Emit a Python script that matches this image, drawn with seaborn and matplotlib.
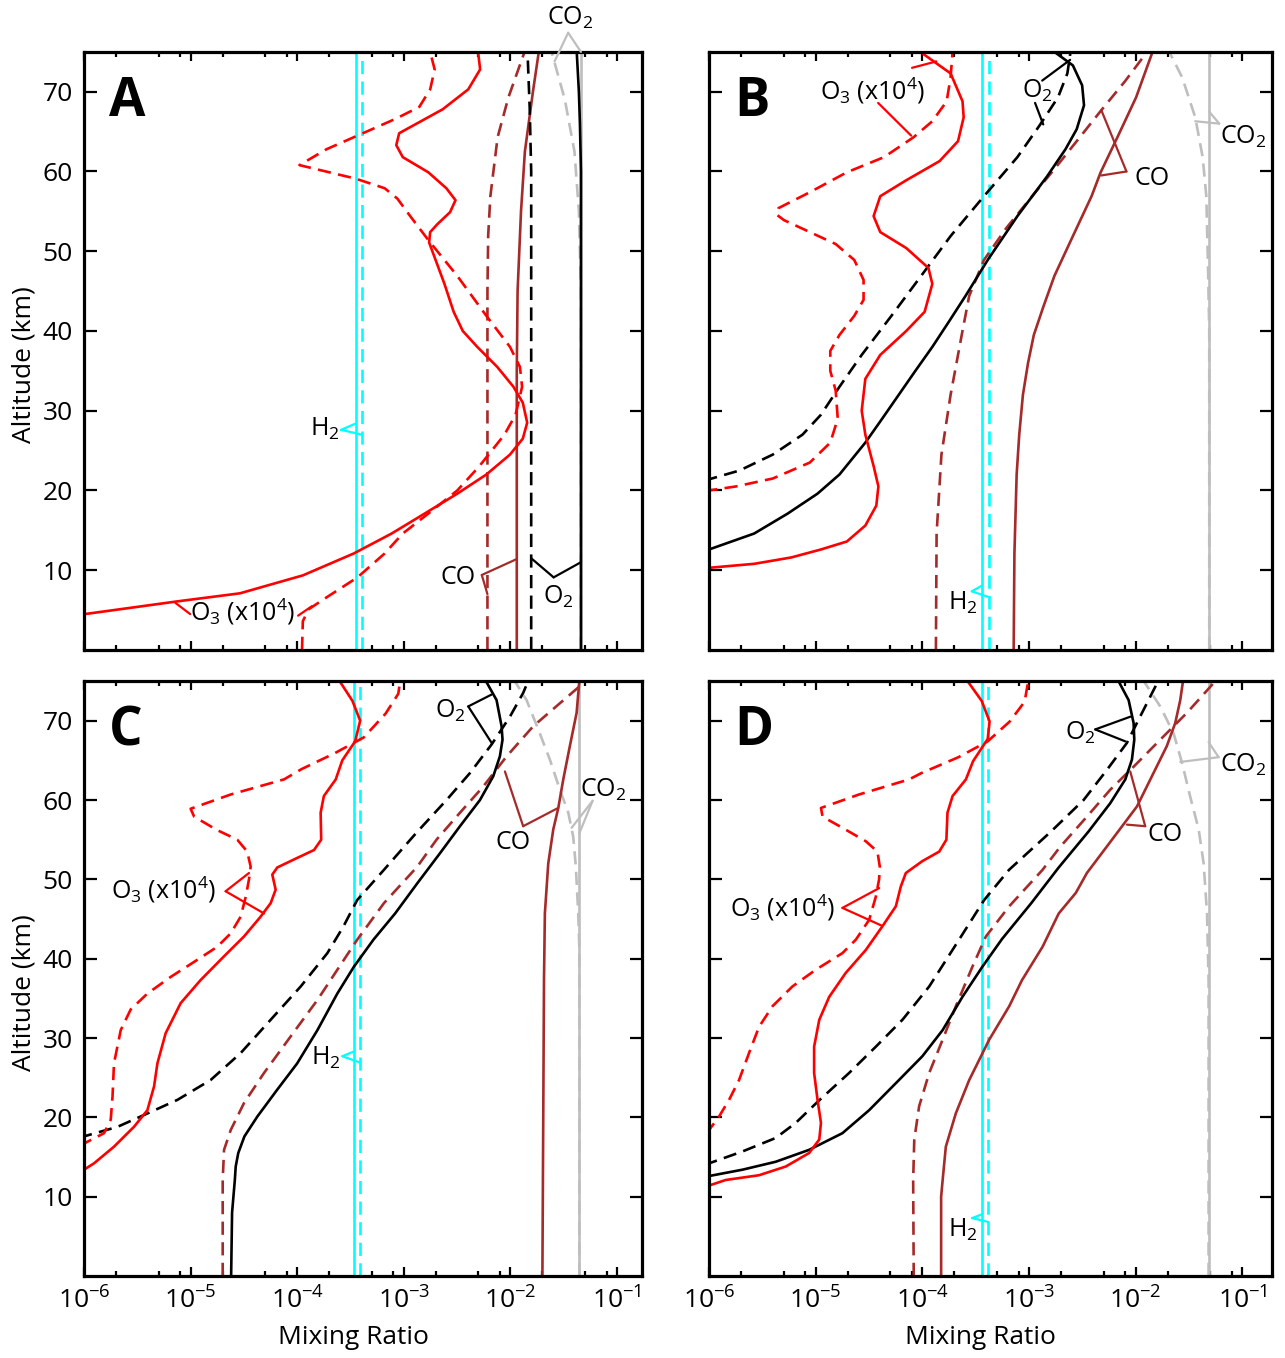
import matplotlib
matplotlib.use("Agg")
import matplotlib.pyplot as plt
import matplotlib.ticker as mticker
import seaborn as sns

# Profiles: altitude (km) and mixing ratio
# solid line = case 1, dashed line = case 2
###############################################################################

# ---- panel A ----
a_o3_z = [4.4, 6.1, 7.1, 9.35, 12.1, 14.6, 17.1, 19.6, 22.0, 24.5, 26.5, 28.5, 31.0, 33.0, 35.5,
          38.0, 40.0, 42.4, 45.9, 48.9, 51.1, 52.4, 53.4, 54.9, 56.4, 57.9, 59.9, 61.8, 63.3, 64.8,
          66.3, 67.8, 70.3, 72.8, 75.0]
a_o3_v = [9.0e-7, 7.6e-6, 2.9e-5, 1.13e-4, 3.4e-4, 7.7e-4, 1.57e-3, 3.18e-3, 5.96e-3, 9.93e-3,
          1.31e-2, 1.44e-2, 1.31e-2, 1.07e-2, 7.53e-3, 4.90e-3, 3.58e-3, 2.94e-3, 2.41e-3, 1.99e-3,
          1.73e-3, 1.77e-3, 2.07e-3, 2.72e-3, 3.06e-3, 2.51e-3, 1.70e-3, 9.79e-4, 8.51e-4, 9.06e-4,
          1.45e-3, 2.32e-3, 4.03e-3, 5.21e-3, 4.98e-3]
a_o3d_z = [0.0, 3.6, 5.1, 6.6, 9.1, 12.1, 14.6, 17.1, 20.0, 23.0, 27.0, 29.5, 33.0, 35.5, 38.0,
           41.9, 46.9, 51.4, 54.4, 56.6, 57.9, 59.1, 60.8, 62.8, 64.8, 66.6, 68.1, 70.3, 72.8, 75.0]
a_o3d_v = [1.11e-4, 1.13e-4, 1.28e-4, 1.89e-4, 3.68e-4, 6.62e-4, 9.79e-4, 1.70e-3, 3.18e-3, 5.09e-3,
           8.81e-3, 1.12e-2, 1.29e-2, 1.23e-2, 9.93e-3, 5.96e-3, 3.18e-3, 1.70e-3, 1.15e-3, 8.71e-4,
           6.62e-4, 3.54e-4, 1.05e-4, 1.89e-4, 4.14e-4, 8.37e-4, 1.40e-3, 1.77e-3, 1.95e-3, 1.77e-3]
a_o2_z = [0, 60, 66, 70, 75]
a_o2_v = [0.046, 0.046, 0.045, 0.044, 0.042]
a_o2d_z = [0, 60, 68, 75]
a_o2d_v = [0.0157, 0.0157, 0.0152, 0.0145]
a_co_z = [0, 35, 45, 55, 62.5, 70, 75]
a_co_v = [0.0115, 0.0115, 0.0117, 0.0126, 0.0137, 0.0163, 0.0185]
a_cod_z = [0, 45, 52, 56.9, 64.3, 69.3, 75]
a_cod_v = [0.0061, 0.0061, 0.0062, 0.0065, 0.0076, 0.0096, 0.0136]
a_co2d_z = [0, 45, 55, 62.5, 69, 75]
a_co2d_v = [0.046, 0.046, 0.044, 0.040, 0.0325, 0.0244]

# ---- panel B ----
b_o3_z = [10.2, 10.3, 10.8, 11.6, 12.6, 13.6, 15.6, 18.1, 20.5, 23.0, 27.0, 30.0, 34.0, 37.0, 40.0,
          42.4, 45.9, 47.9, 50.4, 52.4, 54.4, 56.9, 58.9, 61.3, 63.8, 66.8, 68.8, 72.3, 75.0]
b_o3_v = [9.0e-7, 1.0e-6, 2.65e-6, 5.9e-6, 1.12e-5, 1.96e-5, 2.92e-5, 3.7e-5, 3.87e-5, 3.5e-5,
          2.92e-5, 2.70e-5, 2.92e-5, 4.03e-5, 7.06e-5, 1.05e-4, 1.24e-4, 1.14e-4, 7.06e-5, 4.03e-5,
          3.49e-5, 4.03e-5, 7.06e-5, 1.45e-4, 2.16e-4, 2.44e-4, 2.38e-4, 1.84e-4, 9.57e-5]
b_o3d_z = [19.9, 20.0, 20.5, 21.5, 23.5, 26.0, 29.0, 32.5, 35.0, 37.5, 39.5, 41.9, 43.9, 46.4,
           48.9, 50.9, 52.4, 53.9, 54.6, 55.4, 57.4, 59.9, 61.8, 64.3, 66.3, 68.8, 71.8, 75.0]
b_o3d_v = [9.0e-7, 1.0e-6, 1.78e-6, 3.96e-6, 8.81e-6, 1.37e-5, 1.61e-5, 1.54e-5, 1.37e-5, 1.37e-5,
           1.67e-5, 2.30e-5, 2.81e-5, 2.81e-5, 2.30e-5, 1.54e-5, 8.81e-6, 5.04e-6, 4.29e-6, 4.47e-6,
           8.81e-6, 1.96e-5, 4.37e-5, 8.28e-5, 1.24e-4, 1.69e-4, 1.84e-4, 1.92e-4]
b_o2_z = [12.5, 12.6, 14.6, 17.1, 19.6, 22.0, 26.0, 29.0, 32.0, 35.0, 38.0, 41.2, 44.4, 48.9,
          54.4, 59.4, 62.8, 65.3, 68.3, 70.8, 73.3, 75.0]
b_o2_v = [9.0e-7, 1.0e-6, 2.65e-6, 5.46e-6, 1.04e-5, 1.67e-5, 2.92e-5, 4.2e-5, 6.01e-5, 8.6e-5,
          1.24e-4, 1.78e-4, 2.54e-4, 4.10e-4, 7.78e-4, 1.48e-3, 2.20e-3, 2.80e-3, 3.28e-3, 3.15e-3,
          2.58e-3, 1.73e-3]
b_o2d_z = [21.3, 21.4, 22.5, 24.5, 27.0, 29.5, 33.0, 37.0, 41.9, 46.9, 51.9, 56.9, 61.8, 65.8,
           69.3, 72.3, 75.0]
b_o2d_v = [9.0e-7, 1.0e-6, 1.93e-6, 3.96e-6, 7.52e-6, 1.12e-5, 1.67e-5, 2.70e-5, 5.13e-5, 9.73e-5,
           1.84e-4, 3.78e-4, 7.78e-4, 1.26e-3, 1.87e-3, 2.29e-3, 2.45e-3]
b_co_z = [0, 12.1, 22.0, 27.0, 32.0, 36.0, 39.5, 43.0, 46.9, 51.9, 56.9, 59.9, 64.3, 69.3, 75.0]
b_co_v = [7.18e-4, 7.30e-4, 7.66e-4, 8.1e-4, 8.77e-4, 9.8e-4, 1.11e-3, 1.36e-3, 1.73e-3, 2.58e-3,
          3.86e-3, 4.70e-3, 6.75e-3, 1.01e-2, 1.44e-2]
b_cod_z = [0, 14.6, 24.5, 32.0, 39.5, 44.4, 48.9, 52.9, 56.9, 60.3, 63.8, 67.6, 71.3, 75.0]
b_cod_v = [1.34e-4, 1.36e-4, 1.51e-4, 1.84e-4, 2.34e-4, 2.75e-4, 3.78e-4, 6.12e-4, 1.07e-3, 1.73e-3,
           2.80e-3, 4.71e-3, 7.93e-3, 1.28e-2]
b_co2d_z = [0, 40, 46.9, 56.9, 61.8, 66.8, 71.8, 75.0]
b_co2d_v = [0.049, 0.049, 0.0479, 0.046, 0.0425, 0.0362, 0.0273, 0.0207]

# ---- panel C ----
c_o3_z = [12.8, 13.4, 14.2, 16.3, 18.8, 20.9, 23.9, 26.8, 30.6, 34.4, 37.3, 40.3, 42.8, 45.3, 47.0,
          48.7, 50.6, 51.5, 52.7, 53.7, 55.0, 58.4, 60.5, 62.6, 65.0, 67.4, 70.0, 72.5, 75.0]
c_o3_v = [9.0e-7, 1.0e-6, 1.24e-6, 1.91e-6, 2.94e-6, 3.93e-6, 4.54e-6, 4.88e-6, 5.83e-6, 8.07e-6,
          1.24e-5, 2.06e-5, 3.17e-5, 4.54e-5, 5.64e-5, 6.28e-5, 5.84e-5, 6.51e-5, 1.00e-4, 1.44e-4,
          1.68e-4, 1.66e-4, 1.78e-4, 2.30e-4, 2.65e-4, 3.5e-4, 3.9e-4, 3.3e-4, 2.5e-4]
c_o3d_z = [16.5, 16.7, 18.0, 19.7, 22.6, 26.8, 31.0, 33.6, 35.6, 37.7, 39.6, 41.5, 43.2, 45.3, 47.8,
           50.0, 51.6, 53.5, 55.0, 56.2, 57.9, 58.9, 60.7, 62.6, 63.9, 65.9, 67.9, 70.9, 73.4, 75.0]
c_o3d_v = [9.0e-7, 1.0e-6, 1.54e-6, 1.78e-6, 1.85e-6, 1.91e-6, 2.21e-6, 2.74e-6, 3.93e-6, 6.50e-6,
           1.08e-5, 1.78e-5, 2.38e-5, 2.95e-5, 3.29e-5, 3.53e-5, 3.66e-5, 3.40e-5, 2.74e-5, 1.78e-5,
           1.08e-5, 1.00e-5, 2.38e-5, 7.52e-5, 1.1e-4, 2.25e-4, 4.22e-4, 6.76e-4, 8.89e-4, 9.25e-4]
c_o2_z = [0, 8, 12.1, 13.8, 15.5, 17.6, 20.1, 23.5, 26.8, 31.0, 35.6, 39.0, 42.4, 45.7, 49.5,
          53.3, 56.7, 60.0, 63.0, 65.5, 67.6, 69.3, 72.6, 75.0]
c_o2_v = [2.4e-5, 2.45e-5, 2.6e-5, 2.65e-5, 2.8e-5, 3.2e-5, 4.23e-5, 6.51e-5, 1.00e-4, 1.55e-4,
          2.38e-4, 3.41e-4, 5.2e-4, 8.3e-4, 1.34e-3, 2.19e-3, 3.37e-3, 5.19e-3, 6.92e-3, 7.98e-3,
          8.45e-3, 8.28e-3, 7.43e-3, 5.9e-3]
c_o2d_z = [17.4, 17.6, 18.8, 20.3, 22.2, 24.7, 28.1, 32.3, 36.5, 40.7, 44.0, 47.4, 51.2, 55.8,
           60.0, 63.4, 67.0, 70.5, 73.5, 75.0]
c_o2d_v = [9.0e-7, 1.0e-6, 2.06e-6, 3.66e-6, 7.52e-6, 1.54e-5, 2.95e-5, 5.64e-5, 1.08e-4, 1.92e-4,
           2.70e-4, 3.66e-4, 6.52e-4, 1.30e-3, 2.52e-3, 4.18e-3, 6.67e-3, 9.91e-3, 1.32e-2, 1.47e-2]
c_co_z = [0, 37.3, 45.7, 52.0, 56.3, 59.0, 62.6, 66.8, 71.0, 75.0]
c_co_v = [2.0e-2, 2.07e-2, 2.11e-2, 2.27e-2, 2.53e-2, 2.82e-2, 3.14e-2, 3.62e-2, 4.19e-2, 4.44e-2]
c_cod_z = [0, 10, 12.1, 15.9, 18.4, 21.8, 25.6, 30.2, 34.8, 38.6, 42.4, 47.0, 51.6, 55.0, 58.4,
           61.7, 65.5, 69.3, 72.2, 75.0]
c_cod_v = [2.0e-5, 2.0e-5, 2.0e-5, 2.06e-5, 2.38e-5, 3.17e-5, 4.89e-5, 8.69e-5, 1.55e-4, 2.38e-4,
           3.66e-4, 6.52e-4, 1.34e-3, 2.03e-3, 3.37e-3, 5.57e-3, 9.23e-3, 1.64e-2, 2.92e-2, 5.1e-2]
c_co2d_z = [0, 41.5, 45.7, 51.6, 55.4, 58.4, 61.3, 65.1, 68.9, 72.6, 75.0]
c_co2d_v = [4.44e-2, 4.44e-2, 4.34e-2, 4.12e-2, 3.89e-2, 3.50e-2, 2.92e-2, 2.35e-2, 1.83e-2,
            1.42e-2, 1.10e-2]

# ---- panel D ----
d_o3_z = [11.3, 11.4, 12.1, 12.7, 13.8, 15.5, 17.2, 19.3, 22.2, 25.6, 28.9, 32.3, 35.2, 38.2, 41.1,
          44.1, 46.6, 49.1, 50.8, 52.3, 53.5, 55.0, 58.4, 60.5, 62.6, 64.9, 67.7, 69.9, 72.5, 75.0]
d_o3_v = [9.0e-7, 1.0e-6, 1.43e-6, 2.94e-6, 5.24e-6, 8.67e-6, 1.08e-5, 1.12e-5, 1.04e-5, 9.66e-6,
          9.66e-6, 1.08e-5, 1.34e-5, 1.91e-5, 2.95e-5, 4.23e-5, 5.64e-5, 6.28e-5, 7.00e-5, 1.00e-4,
          1.44e-4, 1.68e-4, 1.72e-4, 1.92e-4, 2.56e-4, 2.99e-4, 4.1e-4, 4.27e-4, 3.6e-4, 2.65e-4]
d_o3d_z = [18.3, 18.4, 20.1, 22.2, 24.7, 28.1, 31.4, 34.0, 36.5, 38.6, 40.7, 42.4, 44.9, 47.8, 50.0,
           51.6, 53.5, 54.8, 56.5, 57.9, 59.0, 60.7, 62.6, 63.4, 65.4, 67.4, 69.9, 72.4, 75.0]
d_o3d_v = [9.0e-7, 1.0e-6, 1.24e-6, 1.54e-6, 1.91e-6, 2.37e-6, 2.94e-6, 3.93e-6, 6.05e-6, 1.00e-5,
           1.78e-5, 2.38e-5, 3.17e-5, 3.66e-5, 3.93e-5, 3.99e-5, 3.79e-5, 2.95e-5, 1.78e-5, 1.16e-5,
           1.12e-5, 2.55e-5, 7.52e-5, 9.8e-5, 2.18e-4, 4.1e-4, 6.6e-4, 9.1e-4, 9.84e-4]
d_o2_z = [12.5, 12.6, 13.4, 14.4, 15.9, 18.0, 20.9, 24.3, 27.7, 31.0, 35.2, 39.0, 42.5, 47.0, 51.5,
          56.0, 59.6, 62.6, 65.1, 67.6, 69.7, 72.6, 75.0]
d_o2_v = [9.0e-7, 1.0e-6, 2.06e-6, 4.22e-6, 8.67e-6, 1.78e-5, 3.17e-5, 5.64e-5, 1.00e-4, 1.55e-4,
          2.38e-4, 3.66e-4, 5.6e-4, 1.05e-3, 1.9e-3, 3.6e-3, 5.78e-3, 8.00e-3, 9.23e-3, 9.71e-3,
          9.57e-3, 8.59e-3, 6.9e-3]
d_o2d_z = [14.1, 14.2, 15.7, 17.4, 19.3, 22.0, 25.6, 28.9, 32.3, 36.5, 42.4, 47.4, 51.2, 53.5,
           56.0, 60.0, 63.8, 67.2, 70.5, 74.3, 75.0]
d_o2d_v = [9.0e-7, 1.0e-6, 2.06e-6, 4.22e-6, 6.50e-6, 1.05e-5, 2.06e-5, 3.66e-5, 6.51e-5, 1.16e-4,
           2.21e-4, 3.8e-4, 6.5e-4, 1.0e-3, 1.6e-3, 3.25e-3, 5.38e-3, 8.28e-3, 1.10e-2, 1.53e-2,
           1.6e-2]
d_co_z = [0, 10, 12.1, 16.3, 20.5, 24.7, 29.8, 34.0, 37.3, 41.5, 45.7, 48.3, 50.8, 55.0, 59.2,
          63.4, 66.8, 69.7, 72.6, 75.0]
d_co_v = [1.5e-4, 1.5e-4, 1.55e-4, 1.66e-4, 2.06e-4, 2.75e-4, 4.24e-4, 6.52e-4, 8.6e-4, 1.34e-3,
          1.9e-3, 2.75e-3, 3.49e-3, 6.0e-3, 1.03e-2, 1.47e-2, 1.96e-2, 2.35e-2, 2.62e-2, 2.78e-2]
d_cod_z = [0, 12.1, 17.2, 21.4, 25.6, 29.8, 34.0, 39.0, 42.8, 46.6, 51.2, 54.1, 57.9, 61.3, 64.2,
           67.6, 71.0, 75.0]
d_cod_v = [8.3e-5, 8.2e-5, 8.4e-5, 9.33e-5, 1.16e-4, 1.55e-4, 2.06e-4, 2.95e-4, 3.94e-4, 6.52e-4,
           1.34e-3, 1.96e-3, 3.49e-3, 5.78e-3, 9.57e-3, 1.70e-2, 3.03e-2, 5.6e-2]
d_co2d_z = [0, 37.3, 45.7, 52.0, 56.3, 60.4, 64.7, 68.4, 71.8, 75.0]
d_co2d_v = [4.83e-2, 4.83e-2, 4.67e-2, 4.34e-2, 3.90e-2, 3.25e-2, 2.72e-2, 2.27e-2, 1.70e-2, 1.19e-2]

# constant profiles, one value per panel (A, B, C, D)
h2_solid = [3.55e-4, 3.65e-4, 3.4e-4, 3.66e-4]
h2_dashed = [4.05e-4, 4.25e-4, 3.9e-4, 4.17e-4]
co2_solid = [0.046, 0.049, 4.44e-2, 4.83e-2]

panel_names = ['A', 'B', 'C', 'D']
alt_ticks = [10, 20, 30, 40, 50, 60, 70]

# Style
###############################################################################

sns.set_style('ticks')
plt.rcParams['font.family'] = ['Open Sans', 'DejaVu Sans']
plt.rcParams['mathtext.fontset'] = 'custom'
plt.rcParams['mathtext.rm'] = 'Open Sans'
plt.rcParams['mathtext.it'] = 'Open Sans:italic'
plt.rcParams['mathtext.bf'] = 'Open Sans:bold'
for key in ['text.color', 'axes.labelcolor', 'axes.edgecolor', 'xtick.color', 'ytick.color']:
    plt.rcParams[key] = 'black'

RED, BLACK, BROWN, CYAN, GREY = '#ff0000', '#000000', '#a52a2a', '#00ffff', '#bebebe'
DASH = (0, (5, 2.8))
LW = 1.9

# Build curve tables from the lists
###############################################################################

curves = {
    'A': [(a_co2d_v, a_co2d_z, GREY, DASH), (a_co_v, a_co_z, BROWN, '-'), (a_cod_v, a_cod_z, BROWN, DASH),
          (a_o2_v, a_o2_z, BLACK, '-'), (a_o2d_v, a_o2d_z, BLACK, DASH),
          (a_o3_v, a_o3_z, RED, '-'), (a_o3d_v, a_o3d_z, RED, DASH)],
    'B': [(b_co2d_v, b_co2d_z, GREY, DASH), (b_co_v, b_co_z, BROWN, '-'), (b_cod_v, b_cod_z, BROWN, DASH),
          (b_o2_v, b_o2_z, BLACK, '-'), (b_o2d_v, b_o2d_z, BLACK, DASH),
          (b_o3_v, b_o3_z, RED, '-'), (b_o3d_v, b_o3d_z, RED, DASH)],
    'C': [(c_co2d_v, c_co2d_z, GREY, DASH), (c_co_v, c_co_z, BROWN, '-'), (c_cod_v, c_cod_z, BROWN, DASH),
          (c_o2_v, c_o2_z, BLACK, '-'), (c_o2d_v, c_o2d_z, BLACK, DASH),
          (c_o3_v, c_o3_z, RED, '-'), (c_o3d_v, c_o3d_z, RED, DASH)],
    'D': [(d_co2d_v, d_co2d_z, GREY, DASH), (d_co_v, d_co_z, BROWN, '-'), (d_cod_v, d_cod_z, BROWN, DASH),
          (d_o2_v, d_o2_z, BLACK, '-'), (d_o2d_v, d_o2d_z, BLACK, DASH),
          (d_o3_v, d_o3_z, RED, '-'), (d_o3d_v, d_o3d_z, RED, DASH)],
}

O3 = 'O$_3$ (x10$^4$)'
# label text, text position, leader colour, leader segments (x0, z0, x1, z1)
labels = {
    'A': [('CO$_2$', (0.0362, 79.2), GREY, [(0.0349, 77.4, 0.026, 73.8), (0.0349, 77.4, 0.046, 75.0)]),
          ('O$_2$', (0.028, 6.6), BLACK, [(0.0255, 9.1, 0.0157, 11.5), (0.0255, 9.1, 0.046, 11.0)]),
          ('CO', (3.2e-3, 9.1), BROWN, [(5.4e-3, 9.4, 0.0115, 11.4), (5.4e-3, 9.4, 0.0061, 7.0)]),
          (O3, (3.1e-5, 4.8), RED, [(7.2e-6, 5.9, 9.9e-6, 4.5), (1.02e-4, 4.3, 1.38e-4, 5.5)]),
          ('H$_2$', (1.82e-4, 27.7), CYAN, [(2.58e-4, 27.6, 3.55e-4, 28.4), (2.58e-4, 27.6, 4.05e-4, 27.0)])],
    'B': [(O3, (3.45e-5, 70.1), RED, [(8.0e-5, 73.0, 1.35e-4, 73.8), (3.85e-5, 68.6, 7.85e-5, 64.5)]),
          ('O$_2$', (1.19e-3, 70.1), BLACK, [(1.33e-3, 71.4, 2.43e-3, 74.0), (1.14e-3, 68.6, 1.36e-3, 65.9)]),
          ('CO', (0.0143, 59.1), BROWN, [(8.2e-3, 60.0, 4.76e-3, 67.7), (8.2e-3, 60.0, 4.76e-3, 59.5)]),
          ('CO$_2$', (0.102, 64.4), GREY, [(0.0608, 66.0, 0.049, 67.5), (0.0608, 66.0, 0.0362, 66.3)]),
          ('H$_2$', (2.42e-4, 5.9), CYAN, [(2.91e-4, 7.35, 3.65e-4, 8.1), (2.91e-4, 7.35, 4.25e-4, 6.6)])],
    'C': [(O3, (5.6e-6, 48.7), RED, [(2.13e-5, 48.5, 3.53e-5, 50.8), (2.13e-5, 48.5, 4.89e-5, 45.7)]),
          ('H$_2$', (1.85e-4, 27.45), CYAN, [(2.65e-4, 27.7, 3.4e-4, 28.3), (2.65e-4, 27.7, 3.9e-4, 26.9)]),
          ('O$_2$', (2.71e-3, 71.2), BLACK, [(4.03e-3, 71.8, 6.68e-3, 73.3), (4.03e-3, 71.8, 6.68e-3, 67.2)]),
          ('CO', (1.06e-2, 54.6), BROWN, [(1.32e-2, 56.7, 8.9e-3, 63.6), (1.32e-2, 56.7, 2.81e-2, 59.0)]),
          ('CO$_2$', (0.0743, 61.3), GREY, [(0.0592, 59.9, 0.0376, 56.5), (0.0592, 59.9, 0.0444, 55.8)])],
    'D': [(O3, (4.9e-6, 46.4), RED, [(1.78e-5, 46.4, 3.94e-5, 48.9), (1.78e-5, 46.4, 4.1e-5, 44.2)]),
          ('H$_2$', (2.42e-4, 5.8), CYAN, [(2.93e-4, 7.3, 3.66e-4, 7.8), (2.93e-4, 7.3, 4.17e-4, 6.8)]),
          ('O$_2$', (3.02e-3, 68.4), BLACK, [(4.18e-3, 68.9, 8.9e-3, 70.5), (4.18e-3, 68.9, 7.98e-3, 67.4)]),
          ('CO', (1.90e-2, 55.6), BROWN, [(1.23e-2, 56.7, 8.9e-3, 63.6), (1.23e-2, 56.7, 8.28e-3, 56.9)]),
          ('CO$_2$', (0.102, 64.4), GREY, [(0.060, 65.4, 0.0483, 67.3), (0.060, 65.4, 0.0262, 64.8)])],
}

# axes rectangles in figure fractions and right x limit of each panel
rects = {'A': [0.0654, 0.5214, 0.4342, 0.4404], 'B': [0.5518, 0.5214, 0.4381, 0.4404],
         'C': [0.0654, 0.0604, 0.4342, 0.4381], 'D': [0.5518, 0.0604, 0.4381, 0.4381]}
xmax = {'A': 0.172, 'B': 0.19, 'C': 0.172, 'D': 0.19}

# Plotting
###############################################################################

fig = plt.figure(figsize=(12.85, 13.58), dpi=100)

for i, name in enumerate(panel_names):
    ax = fig.add_axes(rects[name])
    ax.set_xscale('log')

    # constant profiles first (CO2 case 1, H2 both cases)
    sns.lineplot(x=[co2_solid[i]] * 2, y=[0, 75], ax=ax, color=GREY, linewidth=LW,
                 estimator=None, sort=False, legend=False)
    sns.lineplot(x=[h2_solid[i]] * 2, y=[0, 75], ax=ax, color=CYAN, linewidth=LW,
                 estimator=None, sort=False, legend=False)
    sns.lineplot(x=[h2_dashed[i]] * 2, y=[0, 75], ax=ax, color=CYAN, linewidth=LW,
                 linestyle=DASH, estimator=None, sort=False, legend=False)

    for vals, alts, col, ls in curves[name]:
        sns.lineplot(x=vals, y=alts, ax=ax, color=col, linewidth=LW, linestyle=ls,
                     estimator=None, sort=False, legend=False)

    for text, (tx, tz), col, segs in labels[name]:
        for x0, z0, x1, z1 in segs:
            ax.plot([x0, x1], [z0, z1], color=col, linewidth=1.6, clip_on=False, zorder=5)
        ax.text(tx, tz, text, fontsize=18, ha='center', va='center', zorder=6, clip_on=False)

    ax.set_xlim(1e-6, xmax[name])
    ax.set_ylim(0, 75)
    ax.xaxis.set_major_locator(mticker.LogLocator(base=10, numticks=12))
    ax.xaxis.set_minor_locator(mticker.LogLocator(base=10, subs=[2, 5, 8], numticks=12))
    ax.xaxis.set_minor_formatter(mticker.NullFormatter())
    ax.yaxis.set_major_locator(mticker.FixedLocator(alt_ticks))

    ax.tick_params(axis='both', which='both', direction='in', top=True, right=True,
                   width=1.6, labelsize=19, pad=8, color='black')
    ax.tick_params(axis='x', which='major', length=6.5)
    ax.tick_params(axis='x', which='minor', length=3.5)
    ax.tick_params(axis='y', which='major', length=9)
    for sp in ax.spines.values():
        sp.set_linewidth(2.3)
        sp.set_color('black')

    if name in ('A', 'B'):
        ax.tick_params(axis='x', labelbottom=False)
        ax.set_xlabel('')
    else:
        ax.set_xlabel('Mixing Ratio', fontsize=19)
        ax.xaxis.set_label_coords(0.482, -0.082)
    if name in ('A', 'C'):
        ax.set_ylabel('Altitude (km)', fontsize=19)
        ax.yaxis.set_label_coords(-0.086, 0.477)
    else:
        ax.tick_params(axis='y', labelleft=False)
        ax.set_ylabel('')

    ax.text(0.045, 0.916, name, transform=ax.transAxes, fontsize=38, fontweight='bold',
            ha='left', va='center')

fig.savefig('out.png', dpi=100)
